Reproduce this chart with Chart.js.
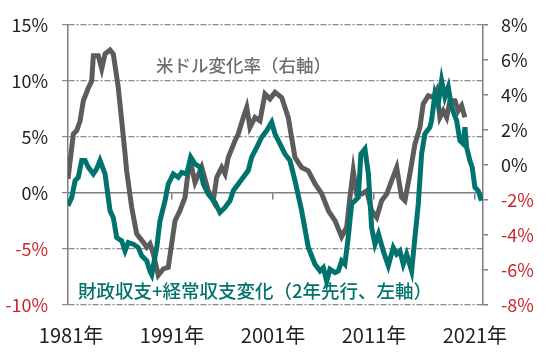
<!DOCTYPE html>
<html><head><meta charset="utf-8">
<script src="https://cdn.jsdelivr.net/npm/chart.js@4/dist/chart.umd.min.js"></script>
<style>html,body{margin:0;padding:0;background:#fff}#wrap{width:550px;height:357px;position:relative}</style>
</head><body><div id="wrap"><canvas id="c" width="550" height="357"></canvas></div>
<script>
// X tick labels (years)
const tickYears = [1981, 1991, 2001, 2011, 2021];
const leftTicks = [-10, -5, 0, 5, 10, 15];
const rightTicks = [-8, -6, -4, -2, 0, 2, 4, 6, 8];

// 米ドル変化率（右軸）
const usdYears = [1980.7,1981.23,1981.56,1981.89,1982.22,1982.71,1983.05,1983.21,1983.7,1984.04,1984.37,1984.86,1985.19,1985.68,1986.02,1986.35,1986.51,1987.01,1987.5,1988.16,1988.5,1988.82,1989.15,1989.64,1990.14,1990.63,1990.97,1991.3,1991.79,1992.29,1992.61,1992.95,1993.28,1993.94,1994.59,1995.09,1995.43,1995.92,1996.25,1996.57,1997.24,1997.56,1998.06,1998.4,1998.72,1999.22,1999.71,2000.21,2000.7,2001.2,2001.86,2002.51,2003.18,2003.84,2004.5,2005.16,2005.82,2006.48,2007.14,2007.8,2008.3,2008.62,2008.95,2009.29,2009.78,2010.28,2010.77,2011.27,2011.76,2012.26,2012.75,2013.25,2013.74,2014.07,2014.56,2015.06,2015.55,2015.88,2016.38,2016.87,2017.21,2017.53,2017.86,2018.2,2018.52,2019.02,2019.35,2019.68,2020.01];
const usdValues = [-0.8,1.77,1.96,2.5,3.67,4.4,4.8,6.25,6.25,5.5,6.35,6.57,6.34,4.43,2.53,0.63,-0.33,-2.42,-3.93,-4.42,-4.7,-4.5,-5.07,-6.3,-5.94,-5.85,-4.5,-3.18,-2.6,-1.85,-0.33,-0.14,-1.0,-0.13,-1.47,-2.04,-0.7,-0.14,-0.5,0.43,1.39,1.77,2.72,3.3,2.15,2.72,2.53,4.06,3.77,4.15,3.86,2.72,0.43,-0.14,-0.33,-1.07,-1.64,-2.6,-3.18,-4.1,-3.56,-1.85,-0.33,-1.66,-1.66,-1.47,-2.6,-3.0,-2.04,-1.66,-0.9,-0.14,-1.85,-2.04,-0.5,1.2,2.15,3.49,3.96,3.86,4.25,2.72,3.1,2.72,3.67,3.67,3.1,3.39,2.72];

// 財政収支+経常収支変化（2年先行、左軸）
const balYears = [1980.7,1981.07,1981.4,1981.72,1982.06,1982.39,1982.71,1983.21,1983.54,1983.87,1984.37,1984.86,1985.19,1985.52,1986.02,1986.35,1986.67,1987.17,1987.66,1988.0,1988.5,1988.82,1988.99,1989.15,1989.49,1989.81,1990.31,1990.63,1991.13,1991.62,1991.96,1992.46,1992.85,1993.28,1993.77,1994.1,1994.59,1995.26,1995.75,1996.25,1996.74,1997.07,1997.56,1998.06,1998.55,1998.89,1999.39,1999.88,2000.38,2000.87,2001.2,2001.69,2002.19,2002.68,2003.18,2003.84,2004.5,2005.16,2005.66,2005.99,2006.32,2006.64,2007.14,2007.47,2007.8,2008.12,2008.45,2008.79,2009.12,2009.45,2009.71,2010.11,2010.45,2010.77,2011.1,2011.45,2011.92,2012.42,2012.91,2013.25,2013.57,2013.9,2014.24,2014.73,2015.06,2015.39,2015.72,2016.05,2016.54,2016.71,2017.04,2017.37,2017.7,2018.03,2018.36,2018.69,2019.19,2019.51,2019.84,2020.01,2020.18,2020.5,2020.73,2021.0,2021.33,2021.65];
const balValues = [-1.14,-0.39,1.1,1.4,2.9,2.9,2.3,1.7,2.15,2.9,1.7,-1.58,-2.2,-3.97,-4.27,-5.17,-4.42,-4.57,-4.87,-5.6,-6.06,-7.0,-7.3,-6.5,-4.87,-2.48,-0.69,0.8,1.7,1.4,1.84,1.7,3.2,2.6,2.3,0.8,-0.1,-0.84,-1.74,-1.29,-0.69,0.2,0.8,1.4,2.0,3.2,4.08,4.98,5.58,6.32,5.28,4.39,3.49,2.9,1.1,-1.58,-4.87,-6.36,-6.96,-6.66,-7.9,-6.8,-7.1,-6.96,-6.06,-6.36,-3.97,-0.98,-0.69,-0.39,3.49,3.94,1.7,-3.08,-4.57,-3.67,-5.17,-6.5,-4.87,-5.46,-5.17,-6.36,-5.46,-6.96,-3.97,-0.98,3.49,5.28,5.87,6.47,8.86,7.97,10.05,8.56,9.45,7.66,6.47,4.68,4.39,5.87,4.08,2.9,2.3,0.5,0.2,-0.69];

const usdLabel = '米ドル変化率（右軸）';
const balLabel = '財政収支+経常収支変化（2年先行、左軸）';

const FONT = "'Noto Sans CJK JP', 'Noto Sans', sans-serif";
const RED = '#c8282d';
const BLACK = '#222';
const AXIS = '#7f7f7f';
const TEAL = '#00736e';
const GRAY = '#5c5c5c';

const toXY = (xs, ys) => xs.map((x, i) => ({x: x, y: ys[i]}));
const setTicks = vals => scale => { scale.ticks = vals.map(v => ({value: v})); };

const textPlugin = {
  id: 'texts',
  afterDatasetsDraw(chart) {
    const ctx = chart.ctx;
    ctx.save();
    ctx.textBaseline = 'middle';
    ctx.textAlign = 'left';
    ctx.fillStyle = '#6e6e6e';
    ctx.font = '500 17.5px ' + FONT;
    ctx.fillText(usdLabel, 156, 65);
    ctx.fillStyle = TEAL;
    ctx.font = '500 18.5px ' + FONT;
    ctx.fillText(balLabel, 78, 291);
    ctx.restore();
  }
};

new Chart(document.getElementById('c'), {
  type: 'line',
  data: {
    datasets: [
      {label: usdLabel, data: toXY(usdYears, usdValues), yAxisID: 'yR', xAxisID: 'x',
       borderColor: GRAY, borderWidth: 5, pointRadius: 0, tension: 0, order: 1, fill: false},
      {label: balLabel, data: toXY(balYears, balValues), yAxisID: 'yL', xAxisID: 'x',
       borderColor: TEAL, borderWidth: 5, pointRadius: 0, tension: 0, order: 0, fill: false}
    ]
  },
  options: {
    responsive: false,
    animation: false,
    devicePixelRatio: 1,
    layout: {padding: {top: 25, left: 0, right: 0, bottom: 0}},
    plugins: {legend: {display: false}, tooltip: {enabled: false}},
    scales: {
      x: {
        type: 'linear', min: 1980.7, max: 2021.8,
        position: {yL: 0},
        afterBuildTicks: setTicks(tickYears),
        ticks: {display: false},
        grid: {display: true, drawOnChartArea: false, drawTicks: true, tickLength: 6, color: AXIS, tickColor: AXIS, lineWidth: 1.5},
        border: {display: true, color: AXIS, width: 1.5}
      },
      x2: {
        type: 'linear', min: 1980.7, max: 2021.8,
        position: 'bottom',
        afterBuildTicks: setTicks(tickYears),
        afterFit: s => { s.height = 52; },
        ticks: {autoSkip: false, maxRotation: 0, padding: 10, color: BLACK,
                font: {family: FONT, size: 20}, callback: v => v + '年'},
        grid: {display: false},
        border: {display: false}
      },
      yL: {
        type: 'linear', position: 'left', min: -10, max: 15,
        afterBuildTicks: setTicks(leftTicks),
        afterFit: s => { s.width = 68; },
        ticks: {padding: 14, color: c => c.tick.value < 0 ? RED : BLACK,
                font: {family: FONT, size: 18}, callback: v => v + '%'},
        grid: {color: c => c.tick.value === 0 ? 'rgba(0,0,0,0)' : '#8a8a8a', lineWidth: 1.2,
               tickLength: 6, tickColor: c => c.tick.value === 0 ? AXIS : '#8a8a8a'},
        border: {display: true, color: AXIS, width: 1.5, dash: [6, 2, 2, 2]}
      },
      yR: {
        type: 'linear', position: 'right', min: -8, max: 8,
        afterBuildTicks: setTicks(rightTicks),
        afterFit: s => { s.width = 67; },
        ticks: {padding: 13, color: c => c.tick.value < 0 ? RED : BLACK,
                font: {family: FONT, size: 18}, callback: v => v + '%'},
        grid: {drawOnChartArea: false, tickLength: 5, tickColor: AXIS, lineWidth: 1.5},
        border: {display: true, color: AXIS, width: 1.5}
      }
    }
  },
  plugins: [textPlugin]
});
</script>
</body></html>
